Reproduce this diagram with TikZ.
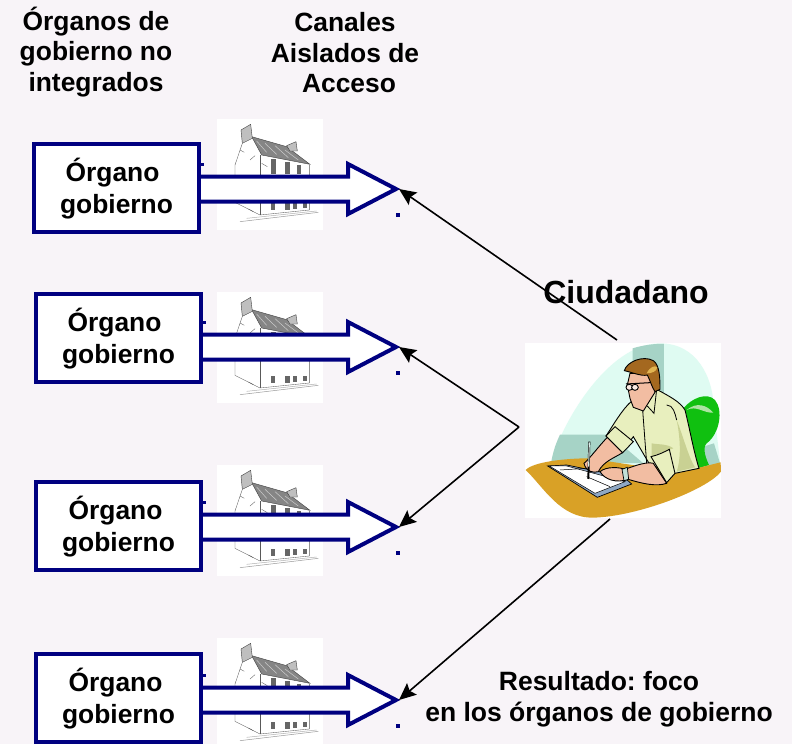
\documentclass[tikz,border=0pt]{standalone}
\usepackage{fontspec}
\setmainfont{Liberation Sans}
\usetikzlibrary{arrows.meta}
\definecolor{bg}{HTML}{F8F4F8}
\definecolor{navy}{HTML}{000080}
\definecolor{teala}{HTML}{DFFBF2}
\definecolor{tealb}{HTML}{A6D3C6}
\definecolor{chair}{HTML}{10C010}
\definecolor{desk}{HTML}{D9A126}
\definecolor{skin}{HTML}{F2BDA2}
\definecolor{shirt}{HTML}{E8EFBE}
\definecolor{shirtd}{HTML}{C9D193}
\definecolor{hair}{HTML}{A4681F}
\definecolor{bookc}{HTML}{8FA8C4}
\tikzset{
  organ/.style={draw=navy,line width=4pt,fill=white,minimum width=165pt,minimum height=88pt,anchor=north west,align=center,font=\fontsize{26.4}{31.5}\selectfont\bfseries,inner sep=0pt},
  blockarrow/.style={draw=navy,line width=4pt,fill=white,miter limit=10},
  tick/.style={fill=navy,draw=none},
  label/.style={font=\fontsize{26.4}{30.5}\selectfont\bfseries,align=center,inner sep=0pt},
  thin/.style={draw=black,line width=1.6pt,-{Stealth[length=17pt,width=15pt,inset=3pt]}},
  hline/.style={draw=black!65,line width=.35pt},
}
\newcommand{\organtext}[1]{\hspace*{#1}\rule{0pt}{25pt}Órgano\\gobierno}
\newcommand{\housepic}[1]{%
\begin{scope}[shift={(210,#1)},x=.3333pt,y=-.3333pt]
  \fill[white] (20,12) rectangle (338,345);
  \draw[hline] (75,150) -- (97,85);
  \draw[hline] (75,150) -- (75,262) -- (150,300) -- (298,285) -- (298,150);
  \draw[hline] (150,120) -- (150,300);
  \filldraw[fill=black!48,draw=black!75,line width=.4pt] (125,65) -- (230,95) -- (300,148) -- (155,120) -- cycle;
  \draw[black!20,line width=.5pt] (140,78) -- (170,112) (165,85) -- (200,118) (195,92) -- (235,128) (225,105) -- (265,135);
  \filldraw[fill=black!25,draw=black!75,line width=.4pt] (93,45) -- (122,28) -- (127,70) -- (97,85) -- cycle;
  \filldraw[fill=black!25,draw=black!75,line width=.4pt] (230,92) -- (258,80) -- (262,108) -- (240,108) -- cycle;
  \fill[black!60] (183,133) rectangle (198,178);
  \fill[black!60] (226,142) rectangle (241,178);
  \fill[black!60] (262,150) rectangle (274,178);
  \fill[black!60] (183,265) rectangle (196,284);
  \fill[black!60] (226,265) rectangle (240,284);
  \fill[black!60] (248,265) rectangle (260,282);
  \fill[black!60] (278,265) rectangle (290,280);
  \draw[hline] (120,135) -- (135,122) (155,145) -- (172,155) (90,105) -- (103,112) (115,282) -- (130,290);
  \draw[black!40,line width=.5pt] (90,320) -- (325,292);
  \draw[black!30,line width=.5pt] (110,310) -- (320,288);
\end{scope}}
\newcommand{\organarrow}[2]{%
  \coordinate (tip#2) at (399,#2);
  \draw[blockarrow] (#1,#2-12.5) -- (348,#2-12.5) -- (348,#2-25) -- (396,#2) -- (348,#2+25) -- (348,#2+12.5) -- (#1,#2+12.5);
  \fill[tick] (#1,#2-26) rectangle ++(4,3);
  \fill[tick] (396,#2+24) rectangle ++(4,3.5);
}
\begin{document}
\frenchspacing
\begin{tikzpicture}[x=1pt,y=-1pt]
\useasboundingbox (0,0) rectangle (792,744);
\fill[bg] (0,0) rectangle (792,744);
\housepic{115}
\housepic{288}
\housepic{461}
\housepic{634}
\organarrow{200}{189}
\organarrow{202}{347}
\organarrow{202}{527}
\organarrow{202}{700}
\node[organ] (o1) at (32,142) {\organtext{-8pt}};
\node[organ] (o2) at (34,292) {\organtext{-8pt}};
\node[organ] (o3) at (34,480) {\organtext{-6pt}};
\node[organ] (o4) at (34,652) {\organtext{-6pt}};
% man
\begin{scope}[shift={(510,330)},x=.3333pt,y=-.3333pt]
  \fill[white] (45,40) rectangle (633,563);
  \fill[teala] (122,400) .. controls (150,290) and (290,40) .. (450,40) .. controls (560,40) and (610,140) .. (612,240) -- (633,420) -- cycle;
  \fill[tealb] (368,55) .. controls (400,45) and (440,40) .. (462,42) -- (462,200) -- (368,200) -- cycle;
  \fill[tealb] (150,314) -- (300,314) -- (400,400) -- (124,395) .. controls (130,360) and (140,335) .. (150,314) -- cycle;
  \fill[tealb] (580,350) -- (612,340) -- (630,400) -- (590,410) -- cycle;
  \fill[chair] (520,235) .. controls (545,205) and (590,185) .. (615,210) .. controls (640,240) and (630,310) .. (590,340) .. controls (575,355) and (590,390) .. (597,405) -- (565,415) -- cycle;
  \fill[shirtd!40!chair!50!white] (530,240) .. controls (560,215) and (590,225) .. (610,248) .. controls (580,250) and (560,225) .. (530,240) -- cycle;
  \fill[desk] (47,420) .. controls (70,395) and (170,385) .. (235,385) -- (400,410) -- (560,415) -- (632,397) -- (633,425) .. controls (590,480) and (380,560) .. (250,563) .. controls (150,565) and (100,470) .. (47,420) -- cycle;
  % book
  \filldraw[fill=bookc,draw=black,line width=.7pt] (113,408) -- (262,502) -- (365,462) -- (340,440) -- (170,405) -- cycle;
  \filldraw[fill=white,draw=black,line width=.5pt] (118,408) -- (170,408) -- (345,455) -- (255,490) -- cycle;
  \draw[black,line width=.5pt] (150,420) -- (232,415) (230,440) -- (300,470);
  % shirt
  \filldraw[fill=shirt,draw=black,line width=.9pt] (288,318) .. controls (310,285) and (335,240) .. (365,213) -- (395,240) -- (440,178) .. controls (480,200) and (510,215) .. (525,240) .. controls (540,300) and (550,360) .. (567,415) -- (495,430) -- (420,405) -- (370,320) -- (335,368) -- cycle;
  \fill[shirtd] (500,270) .. controls (520,320) and (535,380) .. (555,412) -- (500,425) .. controls (515,380) and (510,320) .. (500,270) -- cycle;
  \fill[shirtd] (425,340) .. controls (450,345) and (470,340) .. (490,355) -- (425,378) -- cycle;
  \draw[black,line width=.8pt] (398,240) -- (410,400) (440,178) -- (432,250) -- (412,228) (470,225) .. controls (490,225) and (495,250) .. (500,270);
  % near arm
  \filldraw[fill=skin,draw=black,line width=.9pt] (292,322) -- (338,368) .. controls (310,385) and (280,395) .. (265,425) .. controls (250,430) and (228,425) .. (222,400) .. controls (240,385) and (265,350) .. (292,322) -- cycle;
  \filldraw[fill=skin,draw=black,line width=.9pt] (270,425) .. controls (290,408) and (330,412) .. (345,418) .. controls (380,405) and (410,395) .. (430,400) -- (470,460) .. controls (440,470) and (400,462) .. (355,448) .. controls (320,460) and (285,450) .. (270,425) -- cycle;
  \filldraw[fill=shirt,draw=black,line width=.9pt] (288,318) -- (315,290) -- (370,335) -- (338,368) -- cycle;
  \filldraw[fill=shirt,draw=black,line width=.9pt] (423,380) .. controls (445,375) and (465,365) .. (478,358) -- (495,430) -- (470,458) -- cycle;
  \filldraw[fill=tealb!70!white,draw=black,line width=.7pt] (336,418) -- (352,412) -- (356,448) -- (342,452) -- cycle;
  % pencil
  \draw[black,line width=2pt] (238,335) -- (235,447);
  \draw[tealb!40!white,line width=1.1pt] (238,337) -- (236,410);
  % head
  \filldraw[fill=skin,draw=black,line width=.9pt] (352,165) -- (360,205) -- (370,232) -- (400,243) -- (436,185) -- (425,130) -- (360,130) -- cycle;
  \filldraw[fill=hair,draw=black,line width=.9pt] (343,122) .. controls (350,95) and (400,75) .. (430,92) .. controls (450,105) and (450,150) .. (450,178) -- (435,185) .. controls (425,170) and (420,150) .. (412,135) .. controls (395,140) and (360,125) .. (343,122) -- cycle;
  \fill[desk!80!white] (410,130) .. controls (420,110) and (435,105) .. (442,112) .. controls (440,125) and (425,130) .. (410,130) -- cycle;
  \draw[black,line width=1pt] (348,162) -- (420,158);
  \draw[black,line width=.9pt,fill=white!70!skin] (358,172) ellipse (10 and 9);
  \draw[black,line width=.9pt,fill=white!70!skin] (375,172) ellipse (10 and 9);
\end{scope}
\coordinate (c1) at (617,340);
\coordinate (c2) at (519,427);
\coordinate (c3) at (610,519);
\draw[thin] (c1) -- (tip189);
\draw[thin] (c2) -- (tip347);
\draw[thin] (c2) -- (tip527);
\draw[thin] (c3) -- (tip700);
\node[label] (h1) at (96,52) {Órganos de\\gobierno no\\integrados};
\node[label] (h2) at (345,53) {Canales\\Aislados de\\\hspace*{8pt}Acceso};
\node[label,font=\fontsize{32}{38}\selectfont\bfseries] (ciud) at (626,292) {Ciudadano};
\node[label,font=\fontsize{26.5}{31}\selectfont\bfseries] (res) at (599,699) {Resultado: foco\\en los órganos de gobierno};
\end{tikzpicture}
\end{document}
